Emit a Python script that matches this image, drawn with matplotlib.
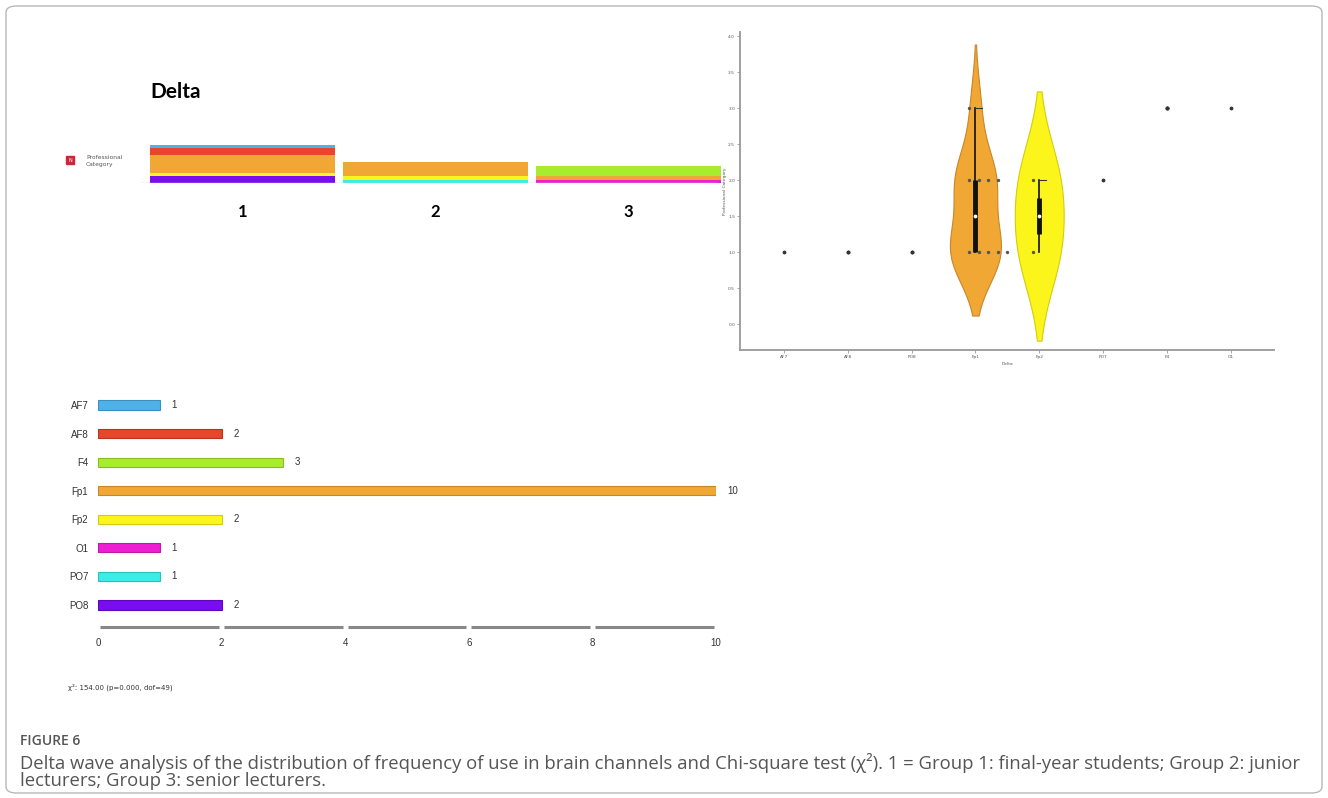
import numpy as np
import matplotlib.pyplot as plt
from matplotlib.patches import FancyBboxPatch, Rectangle

# channel counts per professional category (group 1, 2, 3)
channels = ['AF7', 'AF8', 'F4', 'Fp1', 'Fp2', 'O1', 'PO7', 'PO8']
group_1 = [1, 2, 0, 5, 1, 0, 0, 2]
group_2 = [0, 0, 0, 4, 1, 0, 1, 0]
group_3 = [0, 0, 3, 1, 0, 1, 0, 0]
groups = ['1', '2', '3']
colors = ['#4FB1E6', '#E8452C', '#A8EC30', '#F0A733', '#FCF51C', '#EE1FD2', '#38EEE6', '#7A0CF0']
edge_colors = ['#3A8FC0', '#B83420', '#86C020', '#C8862A', '#D4CC10', '#C018A8', '#28C2BC', '#5A08B8']

# order of channels on the violin x axis
violin_order = ['AF7', 'AF8', 'PO8', 'Fp1', 'Fp2', 'PO7', 'F4', 'O1']
chi_text = 'χ²: 154.00 (p=0.000, dof=49)'

W, H = 1328, 798
fig = plt.figure(figsize=(W / 100, H / 100), dpi=100)
narrow = ['Liberation Sans Narrow', 'Liberation Sans', 'DejaVu Sans']


def box(left, top, right, bottom):
    return [left / W, 1 - bottom / H, (right - left) / W, (bottom - top) / H]


# outer frame
fig.patches.append(FancyBboxPatch((6 / W, 5 / H), 1316 / W, 787 / H,
                                  boxstyle='round,pad=0,rounding_size=0.008',
                                  transform=fig.transFigure, fill=False,
                                  edgecolor='#B8B8B8', linewidth=1.0))

# ---- stacked bars (top left) ----
counts = np.array([group_1, group_2, group_3])  # groups x channels
ax1 = fig.add_axes(box(140, 100, 725, 183))
xs = np.arange(len(groups))
bottom = np.zeros(len(groups))
for j in range(len(channels) - 1, -1, -1):  # reverse alphabetical from the bottom
    ax1.bar(xs, counts[:, j], bottom=bottom, width=0.958, color=colors[j], linewidth=0)
    bottom += counts[:, j]
ax1.set_xlim(-0.531, 2.5)
ax1.set_ylim(0, 83 / 3.5)
ax1.axhline(0, xmax=0.985, color='#D0D0D0', linewidth=1)
for s in ax1.spines.values():
    s.set_visible(False)
ax1.set_yticks([])
ax1.set_xticks(xs)
ax1.set_xticklabels(groups, fontsize=12, fontweight='bold', family='Lato')
ax1.tick_params(axis='x', length=0, pad=15)

fig.text(150 / W, 1 - 92 / H, 'Delta', fontsize=15, fontweight='bold',
         family='Lato', va='center', ha='left')
fig.patches.append(Rectangle((66 / W, 1 - 164 / H), 8 / W, 8 / H,
                             transform=fig.transFigure, color='#C8283C'))
fig.text(70 / W, 1 - 160 / H, 'N', fontsize=3.5, color='white', ha='center', va='center')
fig.text(86 / W, 1 - 161 / H, 'Professional\nCategory', fontsize=4.3, color='#555555',
         va='center', ha='left', linespacing=1.3)

# ---- violin plot (top right) ----
ax2 = fig.add_axes(box(740, 32, 1274, 350))
obs = {}
for j, ch in enumerate(channels):
    obs[ch] = np.repeat([1, 2, 3], [group_1[j], group_2[j], group_3[j]]).astype(float)


def kde(v):
    bw = v.std(ddof=1) * len(v) ** (-1 / 5)
    grid = np.linspace(v.min() - 2 * bw, v.max() + 2 * bw, 200)
    dens = np.exp(-0.5 * ((grid[:, None] - v[None, :]) / bw) ** 2).sum(1)
    return grid, dens / (len(v) * bw * np.sqrt(2 * np.pi))


kdes = {ch: kde(v) for ch, v in obs.items() if len(np.unique(v)) > 1}
peak = max(d.max() for _, d in kdes.values())
for i, ch in enumerate(violin_order):
    v = obs[ch]
    j = channels.index(ch)
    if ch in kdes:
        grid, dens = kdes[ch]
        half = dens / peak * 0.4
        ax2.fill_betweenx(grid, i - half, i + half, facecolor=colors[j],
                          edgecolor=edge_colors[j], linewidth=0.8, zorder=2)
        q1, med, q3 = np.percentile(v, [25, 50, 75])
        ax2.plot([i, i], [v.min(), v.max()], color='#111111', linewidth=1.2, zorder=3)
        ax2.plot([i, i], [q1, q3], color='#111111', linewidth=3.5,
                 solid_capstyle='butt', zorder=4)
        ax2.plot([i, i + 0.1], [v.max(), v.max()], color='#333333', linewidth=0.8, zorder=3)
        ax2.scatter([i], [med], s=3, color='white', zorder=5)
        # individual observations, spread sideways
        for val in np.unique(v):
            n = int((v == val).sum())
            offs = np.arange(n) * 0.15 - 0.1
            ax2.scatter(i + offs, np.full(n, val), s=2, color='#555555', zorder=4)
    else:
        ax2.scatter(np.full(len(v), i), v, s=3, color='#333333', zorder=4)

ax2.set_xlim(-0.69, 7.68)
ax2.set_ylim(-0.361, 4.056)
ax2.set_yticks(np.arange(0, 4.01, 0.5))
ax2.set_yticklabels([f'{t:.1f}' for t in np.arange(0, 4.01, 0.5)])
ax2.set_xticks(range(len(violin_order)))
ax2.set_xticklabels(violin_order)
ax2.tick_params(labelsize=3.2, labelcolor='#555555', color='#999999', length=2, width=0.6, pad=1.5)
for s in ['top', 'right']:
    ax2.spines[s].set_visible(False)
for s in ['left', 'bottom']:
    ax2.spines[s].set_color('#999999')
    ax2.spines[s].set_linewidth(1.3)
ax2.set_xlabel('Delta', fontsize=3.2, color='#555555', labelpad=2)
ax2.set_ylabel('Professional Category', fontsize=3.2, color='#555555', labelpad=1)

# ---- horizontal bars (bottom left) ----
totals = [a + b + c for a, b, c in zip(group_1, group_2, group_3)]
ax3 = fig.add_axes(box(98, 390, 716, 627))
ys = np.arange(len(channels))
ax3.barh(ys, totals, height=0.32, color=colors, edgecolor=edge_colors, linewidth=0.8)
for y, t in zip(ys, totals):
    ax3.text(t + 0.19, y, str(t), va='center', ha='left', fontsize=7, color='#333333',
             family=narrow)
ax3.set_xlim(0, 10)
ax3.set_ylim(7.77, -0.525)
ax3.set_yticks(ys)
ax3.set_yticklabels(channels, family=narrow)
xt = np.arange(0, 11, 2)
ax3.set_xticks(xt)
ax3.set_xticklabels([str(t) for t in xt], family=narrow)
ax3.tick_params(labelsize=7, labelcolor='#333333', length=0)
ax3.tick_params(axis='x', pad=8)
ax3.tick_params(axis='y', pad=7)
for s in ax3.spines.values():
    s.set_visible(False)
for a, b in zip(xt[:-1], xt[1:]):
    ax3.plot([a + 0.04, b - 0.04], [0, 0], transform=ax3.get_xaxis_transform(),
             color='#888888', linewidth=2.2, clip_on=False, solid_capstyle='butt')

fig.text(68 / W, 1 - 687 / H, chi_text, fontsize=5, color='#333333', va='center', ha='left')

# ---- caption ----
fig.text(20 / W, 1 - 741 / H, 'FIGURE 6', fontsize=10, color='#555555',
         family='Open Sans', fontweight='semibold', va='center', ha='left')
fig.text(20 / W, 1 - 763 / H,
         'Delta wave analysis of the distribution of frequency of use in brain channels and '
         'Chi-square test (χ²). 1 = Group 1: final-year students; Group 2: junior',
         fontsize=13.35, color='#555555', family='Open Sans', va='center', ha='left')
fig.text(20 / W, 1 - 781 / H, 'lecturers; Group 3: senior lecturers.',
         fontsize=13.35, color='#555555', family='Open Sans', va='center', ha='left')

fig.savefig('out.png', dpi=100)
